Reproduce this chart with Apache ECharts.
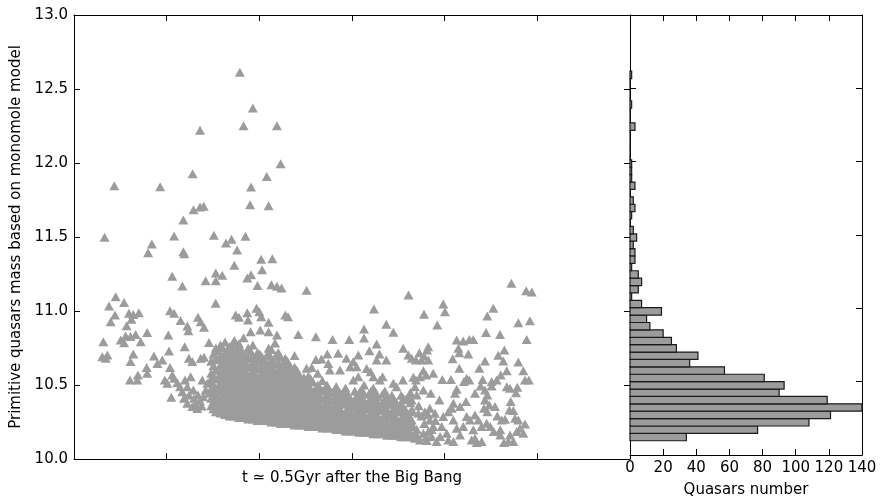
<!DOCTYPE html>
<html><head><meta charset="utf-8">
<script src="https://cdn.jsdelivr.net/npm/echarts@6/dist/echarts.min.js"></script>
<style>html,body{margin:0;padding:0;background:#fff}#c{width:886px;height:503px}</style>
</head><body><div id="c"></div>
<script>
// ---- data ----
const yTicksLeft = [10.0, 10.5, 11.0, 11.5, 12.0, 12.5, 13.0];
const histTicks = [0, 20, 40, 60, 80, 100, 120, 140];
// histogram (50 bins from bottom)
const histBinStart = 10.097;
const histBinStep = 0.0504;
const histCounts = [34,77,108,121,140,119,90,93,81,57,36,41,28,25,20,12,10,19,7,1,5,7,5,1,3,3,2,4,2,0,1,3,2,0,3,1,1,1,0,0,0,0,3,0,0,1,0,0,0,1];
// sparse upper / outlying quasars [x, mass]
const sparseTop = [[1.79,12.613],[1.93,12.372],[1.83,12.252],[2.19,12.252],[1.36,12.221],[2.23,11.995],[1.28,11.928],[2.08,11.908],[0.435,11.847],[0.93,11.84],[1.91,11.838],[1.90,11.718],[2.10,11.711],[1.29,11.684],[1.36,11.703],[1.40,11.707],[1.18,11.615],[0.33,11.498],[1.08,11.507],[1.51,11.511],[1.85,11.505],[0.84,11.453],[0.80,11.394],[1.18,11.401],[1.19,11.387],[1.64,11.459],[1.70,11.484],[1.76,11.412],[2.02,11.349],[2.14,11.353],[1.73,11.309],[2.03,11.279],[1.06,11.234],[1.53,11.257],[1.60,11.241],[1.42,11.205],[1.53,11.205],[1.87,11.223],[1.91,11.245],[1.98,11.173],[2.13,11.178],[2.19,11.167],[2.24,11.155],[1.17,11.169],[2.51,11.14],[4.72,11.187],[4.88,11.137],[4.94,11.128],[3.61,11.108]];
const leftWing = [[0.45,11.097],[0.378,11.034],[0.54,11.057],[0.442,10.973],[0.396,10.928],[0.593,10.984],[0.64,10.977],[0.70,10.989],[0.62,10.944],[0.568,10.90],[0.317,10.793],[0.504,10.804],[0.557,10.831],[0.61,10.827],[0.665,10.842],[0.54,10.786],[0.79,10.854],[0.72,10.793],[0.305,10.691],[0.36,10.703],[0.342,10.680],[0.64,10.709],[0.61,10.658],[0.784,10.619],[0.79,10.579],[0.69,10.568],[0.683,10.534],[0.604,10.534],[0.863,10.696],[0.90,10.646],[0.953,10.669],[0.98,10.534],[1.007,10.511],[1.036,11.002],[1.08,10.984],[1.15,10.935],[1.223,10.899],[1.234,10.867],[1.018,10.838],[1.025,10.730],[1.194,10.759],[1.338,10.957],[1.367,10.928],[1.403,10.89],[1.457,10.788],[1.036,10.619],[1.061,10.568],[1.08,10.545],[1.115,10.516],[1.24,10.68],[1.277,10.658],[1.367,10.68],[1.403,10.687],[1.529,11.052],[1.745,10.973],[1.78,10.957],[1.87,10.989],[1.878,10.939],[1.906,10.86],[1.05,10.417],
[1.144,10.489],[1.169,10.455],[1.198,10.534],[1.223,10.489],[1.241,10.432],[1.259,10.556],[1.288,10.466],[1.295,10.41],[1.313,10.372],[1.338,10.432],[1.36,10.394],[1.378,10.358],[1.396,10.421],[1.421,10.466],[1.439,10.511],[1.457,10.444],[1.482,10.545],[1.493,10.489],[1.504,10.426],[1.385,10.534],[1.187,10.41],[1.223,10.376],[1.277,10.354],[1.331,10.342]];
const midUpper = [[1.97,11.018],[2.0,10.995],[2.02,10.961],[2.10,10.924],[2.28,10.973],[2.31,10.961],[2.01,10.872],[2.10,10.86],[2.19,10.838],[2.17,10.784],[2.10,10.748],
[2.42,10.842],[2.61,10.826],[2.79,10.808],[2.97,10.808],[3.13,10.878],[3.13,10.817],[3.237,11.014],[3.37,10.91],[3.446,10.856],[3.266,10.777],[3.553,10.748],[3.608,10.703],[3.188,10.732],[3.296,10.709],[3.37,10.669],[3.266,10.669],[3.068,10.703],[2.85,10.714],[2.94,10.680],[3.014,10.658],[2.733,10.709],[2.67,10.676],[2.61,10.673],[2.565,10.619],[2.51,10.613],[2.744,10.646],[2.76,10.601],[2.87,10.601],[2.98,10.624],[3.05,10.624],[3.068,10.556],[3.014,10.534],[3.158,10.612],[3.2,10.59],[3.23,10.556],[3.30,10.534],[3.33,10.556],[3.446,10.511],[3.48,10.489],[3.55,10.534]];
const rightGroup = [[3.985,11.047],[4.003,10.995],[3.777,10.978],[3.92,10.905],[4.525,11.018],[4.46,10.966],[4.795,10.921],[4.92,10.934],[4.446,10.854],[4.597,10.842],[4.885,10.808],[4.13,10.804],[4.2,10.797],[4.266,10.808],[4.309,10.808],[4.148,10.748],[4.158,10.718],[4.255,10.709],[3.823,10.759],[3.81,10.736],[3.727,10.718],[3.777,10.696],[3.644,10.680],[3.69,10.669],[3.75,10.669],[3.823,10.669],[4.086,10.678],[4.644,10.736],[4.578,10.701],[4.632,10.662],[4.795,10.656],[4.435,10.662],[4.158,10.613],[4.374,10.613],[3.77,10.597],[3.8,10.568],[3.877,10.579],[3.734,10.556],[4.67,10.597],[4.605,10.568],[4.561,10.534],[4.507,10.523],[4.849,10.597],[4.867,10.534],[4.909,10.534],[3.662,10.552],[3.69,10.534],[3.68,10.489],[3.975,10.538],[4.068,10.538],[4.237,10.545],[4.266,10.534],[4.208,10.523],[4.41,10.538],[4.388,10.493],[4.507,10.493],[4.13,10.471],[4.112,10.444],[4.67,10.489],[4.705,10.478],[4.784,10.484],[4.77,10.448],[4.435,10.466],[4.46,10.433],[4.327,10.444],[4.23,10.388],[3.77,10.466],[3.85,10.444],[3.698,10.433],[3.644,10.399],[3.943,10.399],[4.094,10.376],[4.166,10.354],[4.076,10.343],[4.04,10.32],[4.712,10.388],[4.698,10.331],[4.741,10.327],[4.435,10.399],[4.482,10.365],[4.424,10.343],[4.46,10.32],[4.543,10.354],[4.568,10.291],[4.327,10.298],[4.237,10.287],[4.273,10.264],[4.363,10.264],[4.399,10.219],[4.453,10.242],[4.615,10.264],[4.651,10.269],[4.759,10.276],[4.795,10.264],[4.867,10.237],[4.813,10.208],[4.777,10.186],[4.849,10.174],[4.705,10.163],[4.64,10.111],[4.687,10.118],[4.741,10.118],[4.493,10.219],[4.529,10.186],[4.6,10.197],[4.6,10.163],[4.309,10.197],[4.327,10.141],[4.345,10.111],[4.399,10.118],[4.291,10.129],[4.094,10.264],[4.13,10.208],[4.2,10.219],[4.166,10.163],[4.094,10.118],[3.985,10.287],[3.967,10.219],[4.022,10.174],[3.95,10.152],[3.84,10.264],[3.877,10.219],[3.823,10.186],[3.77,10.174],[3.859,10.152],[3.698,10.163],[3.662,10.219],[3.644,10.264],[3.716,10.309],[3.787,10.32],[3.84,10.343],[3.895,10.309],[3.734,10.129],[3.806,10.125],[3.913,10.118],[4.04,10.129],
[3.65,10.33],[3.72,10.36],[3.78,10.24],[3.7,10.2],[3.75,10.29],[3.82,10.3],[3.86,10.2],[3.9,10.26],[3.68,10.14],[3.8,10.15]];
// dense core, read column by column: [x, [masses...]]
const denseCols = [
[1.48,[10.36,10.41,10.47,10.52,10.58,10.66]],
[1.53,[10.32,10.37,10.43,10.48,10.54,10.6,10.68,10.75]],
[1.58,[10.31,10.35,10.4,10.46,10.51,10.57,10.63,10.7,10.77]],
[1.63,[10.3,10.34,10.39,10.44,10.5,10.55,10.61,10.66,10.72,10.79]],
[1.68,[10.29,10.33,10.38,10.43,10.48,10.53,10.59,10.64,10.7,10.76]],
[1.73,[10.29,10.33,10.37,10.42,10.47,10.52,10.57,10.62,10.68,10.74,10.8]],
[1.78,[10.28,10.32,10.36,10.41,10.46,10.51,10.56,10.61,10.66,10.72,10.78]],
[1.83,[10.28,10.31,10.36,10.4,10.45,10.5,10.55,10.6,10.66,10.71,10.82]],
[1.88,[10.27,10.31,10.35,10.4,10.45,10.5,10.56,10.62,10.68,10.75]],
[1.93,[10.27,10.3,10.35,10.39,10.44,10.49,10.54,10.6,10.65,10.7,10.77]],
[1.98,[10.26,10.3,10.34,10.39,10.44,10.49,10.55,10.61,10.67,10.72]],
[2.03,[10.26,10.3,10.34,10.38,10.43,10.48,10.53,10.58,10.63,10.69]],
[2.08,[10.26,10.29,10.33,10.38,10.43,10.48,10.53,10.59,10.64,10.7]],
[2.13,[10.25,10.29,10.33,10.37,10.42,10.47,10.52,10.57,10.62,10.67,10.74]],
[2.18,[10.25,10.29,10.33,10.37,10.42,10.47,10.53,10.58,10.64,10.7]],
[2.23,[10.24,10.28,10.32,10.37,10.42,10.47,10.52,10.57,10.62,10.69]],
[2.28,[10.24,10.28,10.32,10.36,10.41,10.46,10.51,10.56,10.62,10.68]],
[2.33,[10.24,10.27,10.31,10.36,10.41,10.46,10.51,10.56,10.63]],
[2.38,[10.23,10.27,10.31,10.35,10.4,10.45,10.5,10.56,10.62,10.7]],
[2.43,[10.23,10.27,10.31,10.35,10.4,10.45,10.51,10.57]],
[2.48,[10.23,10.26,10.3,10.35,10.4,10.45,10.5,10.55]],
[2.53,[10.22,10.26,10.3,10.34,10.39,10.44,10.5,10.56]],
[2.58,[10.22,10.26,10.3,10.34,10.39,10.45,10.52]],
[2.63,[10.22,10.25,10.29,10.34,10.39,10.44,10.5,10.58]],
[2.68,[10.21,10.25,10.29,10.34,10.4,10.46,10.53]],
[2.73,[10.21,10.25,10.29,10.33,10.38,10.44,10.5]],
[2.78,[10.21,10.24,10.28,10.33,10.39,10.45]],
[2.83,[10.2,10.24,10.28,10.32,10.37,10.43,10.49]],
[2.88,[10.2,10.23,10.28,10.33,10.38,10.44]],
[2.93,[10.19,10.23,10.27,10.32,10.37,10.42,10.48]],
[2.98,[10.19,10.23,10.27,10.31,10.36,10.41]],
[3.03,[10.19,10.22,10.26,10.31,10.35,10.4,10.46]],
[3.08,[10.18,10.22,10.26,10.3,10.35,10.4,10.45]],
[3.13,[10.18,10.22,10.26,10.3,10.34,10.39,10.44,10.5]],
[3.18,[10.18,10.21,10.25,10.29,10.34,10.39,10.44]],
[3.23,[10.17,10.21,10.25,10.29,10.34,10.38,10.43,10.48]],
[3.28,[10.17,10.21,10.25,10.29,10.33,10.38,10.42]],
[3.33,[10.17,10.2,10.24,10.28,10.33,10.38,10.44]],
[3.38,[10.16,10.2,10.24,10.28,10.33,10.37,10.42]],
[3.43,[10.16,10.2,10.24,10.28,10.32,10.37,10.43]],
[3.48,[10.16,10.19,10.23,10.27,10.32,10.38]],
[3.53,[10.15,10.19,10.23,10.27,10.32,10.37,10.43]],
[3.58,[10.15,10.19,10.23,10.28,10.33,10.4]],
[3.63,[10.15,10.18,10.22,10.27,10.32,10.38,10.45]]
];
// dense core, in-between columns
const denseCols2 = [
[1.505,[10.34,10.39,10.45,10.5,10.56,10.63,10.71]],
[1.555,[10.33,10.38,10.42,10.49,10.55,10.61,10.67,10.73]],
[1.605,[10.32,10.36,10.42,10.47,10.53,10.58,10.64,10.69,10.75]],
[1.655,[10.31,10.36,10.41,10.46,10.51,10.57,10.62,10.68,10.74]],
[1.705,[10.3,10.35,10.4,10.45,10.5,10.55,10.6,10.65,10.71,10.77]],
[1.755,[10.3,10.34,10.39,10.44,10.49,10.54,10.59,10.64,10.69,10.75]],
[1.805,[10.29,10.34,10.38,10.43,10.48,10.53,10.58,10.63,10.69,10.74]],
[1.855,[10.29,10.33,10.38,10.43,10.48,10.53,10.58,10.64,10.7]],
[1.905,[10.28,10.33,10.37,10.42,10.47,10.52,10.57,10.63,10.68,10.73]],
[1.955,[10.28,10.32,10.37,10.42,10.47,10.52,10.57,10.62,10.68]],
[2.005,[10.27,10.32,10.36,10.41,10.46,10.51,10.56,10.61,10.66,10.71]],
[2.055,[10.27,10.31,10.36,10.41,10.45,10.5,10.56,10.61,10.67]],
[2.105,[10.27,10.31,10.35,10.4,10.45,10.5,10.55,10.6,10.65,10.71]],
[2.155,[10.26,10.31,10.35,10.4,10.44,10.49,10.55,10.6,10.66]],
[2.205,[10.26,10.3,10.35,10.39,10.44,10.49,10.54,10.6,10.65,10.72]],
[2.255,[10.25,10.3,10.34,10.39,10.44,10.49,10.54,10.59,10.65]],
[2.305,[10.25,10.29,10.34,10.38,10.43,10.48,10.53,10.59,10.66]],
[2.355,[10.25,10.29,10.33,10.38,10.43,10.48,10.53,10.59]],
[2.405,[10.24,10.29,10.33,10.37,10.42,10.47,10.53,10.6]],
[2.455,[10.24,10.28,10.33,10.37,10.42,10.47,10.53]],
[2.505,[10.24,10.28,10.32,10.37,10.42,10.47,10.52]],
[2.555,[10.23,10.28,10.32,10.36,10.41,10.47,10.54]],
[2.605,[10.23,10.27,10.32,10.36,10.41,10.47]],
[2.655,[10.23,10.27,10.31,10.36,10.42,10.48]],
[2.705,[10.22,10.27,10.31,10.36,10.41,10.47]],
[2.755,[10.22,10.26,10.31,10.35,10.41,10.47]],
[2.805,[10.22,10.26,10.3,10.35,10.4,10.46]],
[2.855,[10.21,10.25,10.3,10.35,10.4,10.46]],
[2.905,[10.21,10.25,10.3,10.4,10.45]],
[2.955,[10.2,10.25,10.29,10.34,10.39,10.44]],
[3.005,[10.2,10.24,10.29,10.38]],
[3.055,[10.2,10.24,10.28,10.33,10.38,10.43]],
[3.105,[10.19,10.24,10.28,10.32,10.37,10.42,10.47]],
[3.155,[10.19,10.23,10.28,10.37]],
[3.205,[10.19,10.23,10.27,10.31,10.36,10.41,10.46]],
[3.255,[10.18,10.23,10.27,10.31,10.36,10.4,10.45]],
[3.305,[10.18,10.22,10.26,10.35]],
[3.355,[10.18,10.22,10.26,10.3,10.35,10.4,10.46]],
[3.405,[10.17,10.22,10.3,10.4]],
[3.455,[10.17,10.21,10.26,10.3,10.35,10.4]],
[3.505,[10.17,10.21,10.25,10.35]],
[3.555,[10.16,10.21,10.25,10.3,10.35,10.41]],
[3.605,[10.16,10.2,10.25,10.3,10.42]]
];
// ---- build ----
const densePts = [];
denseCols.concat(denseCols2).forEach(c => c[1].forEach(m => densePts.push([c[0], m])));
const scatterData = sparseTop.concat(leftWing, midUpper, rightGroup, densePts);
const histData = histCounts.map((n, k) => [histBinStart + k * histBinStep, histBinStart + (k + 1) * histBinStep, n]);

const FONT = 'DejaVu Sans';
const axisCol = '#000';
const gray = '#9c9c9c';
function frameAxis(extra) {
  return Object.assign({
    type: 'value',
    axisLine: { show: true, onZero: false, lineStyle: { color: axisCol, width: 1 } },
    axisTick: { show: true, inside: true, length: 6, lineStyle: { color: axisCol, width: 1 } },
    axisLabel: { show: false },
    splitLine: { show: false }
  }, extra);
}
const chart = echarts.init(document.getElementById('c'), null, { renderer: 'canvas' });
chart.setOption({
  animation: false,
  backgroundColor: '#fff',
  grid: [
    { left: 74, top: 15, width: 556, height: 444, containLabel: false },
    { left: 630, top: 15, width: 232, height: 444, containLabel: false }
  ],
  xAxis: [
    frameAxis({ gridIndex: 0, position: 'bottom', min: 0, max: 6, interval: 1,
      name: 't \u2243 0.5Gyr after the Big Bang', nameLocation: 'middle', nameGap: 12,
      nameTextStyle: { fontFamily: FONT, fontSize: 15, color: '#000', verticalAlign: 'top' } }),
    frameAxis({ gridIndex: 0, position: 'top', min: 0, max: 6, interval: 1 }),
    frameAxis({ gridIndex: 1, position: 'bottom', min: histTicks[0], max: histTicks[histTicks.length - 1], interval: 20,
      axisLabel: { show: true, margin: 6, fontFamily: FONT, fontSize: 15, color: '#000' },
      name: 'Quasars number', nameLocation: 'middle', nameGap: 28,
      nameTextStyle: { fontFamily: FONT, fontSize: 15, color: '#000', verticalAlign: 'top' } }),
    frameAxis({ gridIndex: 1, position: 'top', min: 0, max: 140, interval: 20 })
  ],
  yAxis: [
    frameAxis({ gridIndex: 0, position: 'left', min: yTicksLeft[0], max: yTicksLeft[yTicksLeft.length - 1], interval: 0.5,
      axisLabel: { show: true, margin: 6, fontFamily: FONT, fontSize: 15, color: '#000', formatter: v => v.toFixed(1) },
      name: 'Primitive quasars mass based on monomole model', nameLocation: 'middle', nameGap: 42,
      nameTextStyle: { fontFamily: FONT, fontSize: 15, color: '#000' } }),
    frameAxis({ gridIndex: 0, position: 'right', min: 10, max: 13, interval: 0.5 }),
    frameAxis({ gridIndex: 1, position: 'left', min: 10, max: 13, interval: 0.5 }),
    frameAxis({ gridIndex: 1, position: 'right', min: 10, max: 13, interval: 0.5 })
  ],
  series: [
    { type: 'scatter', xAxisIndex: 0, yAxisIndex: 0, data: scatterData,
      symbol: 'triangle', symbolSize: [10, 9], itemStyle: { color: gray, opacity: 1 }, silent: true },
    { type: 'custom', xAxisIndex: 2, yAxisIndex: 2, data: histData,
      encode: { x: 2, y: [0, 1] },
      renderItem: function (params, api) {
        const lo = api.value(0), hi = api.value(1), n = api.value(2);
        const a = api.coord([0, hi]);
        const b = api.coord([n, lo]);
        return { type: 'rect', shape: { x: a[0], y: a[1], width: b[0] - a[0], height: b[1] - a[1] },
          style: { fill: gray, stroke: '#1a1a1a', lineWidth: 1.2 } };
      } }
  ]
});
</script></body></html>
